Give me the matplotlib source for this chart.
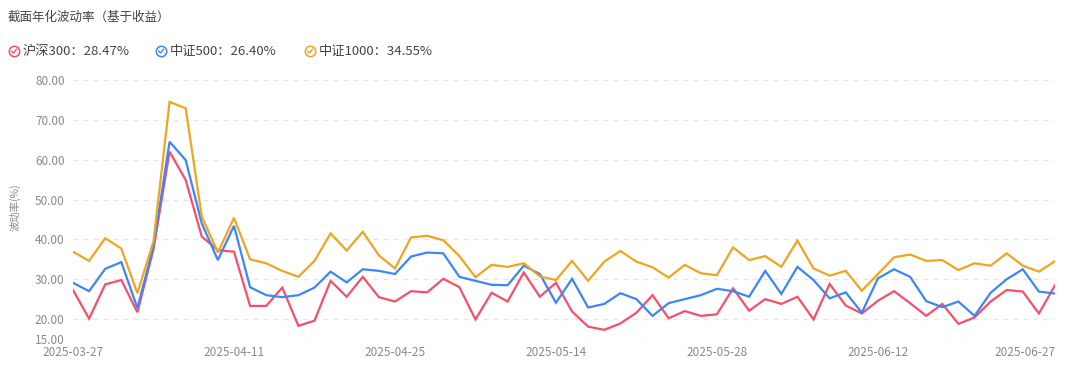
import matplotlib
matplotlib.use("Agg")
from matplotlib import pyplot as plt
from matplotlib.lines import Line2D

plt.rcParams["font.family"] = ["Noto Sans CJK SC", "DejaVu Sans"]

# trading days, 2025-03-27 .. 2025-06-27
dates = [
    "2025-03-27", "2025-03-28", "2025-03-31", "2025-04-01", "2025-04-02", "2025-04-03",
    "2025-04-07", "2025-04-08", "2025-04-09", "2025-04-10", "2025-04-11", "2025-04-14",
    "2025-04-15", "2025-04-16", "2025-04-17", "2025-04-18", "2025-04-21", "2025-04-22",
    "2025-04-23", "2025-04-24", "2025-04-25", "2025-04-28", "2025-04-29", "2025-04-30",
    "2025-05-06", "2025-05-07", "2025-05-08", "2025-05-09", "2025-05-12", "2025-05-13",
    "2025-05-14", "2025-05-15", "2025-05-16", "2025-05-19", "2025-05-20", "2025-05-21",
    "2025-05-22", "2025-05-23", "2025-05-26", "2025-05-27", "2025-05-28", "2025-05-29",
    "2025-05-30", "2025-06-03", "2025-06-04", "2025-06-05", "2025-06-06", "2025-06-09",
    "2025-06-10", "2025-06-11", "2025-06-12", "2025-06-13", "2025-06-16", "2025-06-17",
    "2025-06-18", "2025-06-19", "2025-06-20", "2025-06-23", "2025-06-24", "2025-06-25",
    "2025-06-26", "2025-06-27",
]

hs300 = [27.3, 20.1, 28.7, 29.8, 21.7, 37.5, 62.0, 54.9, 40.7, 37.3,
         36.9, 23.3, 23.3, 27.9, 18.3, 19.6, 29.6, 25.6, 30.6, 25.5,
         24.4, 27.0, 26.7, 30.1, 28.0, 19.9, 26.6, 24.4, 31.7, 25.6,
         29.1, 21.9, 18.1, 17.3, 18.9, 21.6, 26.0, 20.2, 22.0, 20.8,
         21.2, 27.7, 22.1, 25.0, 23.8, 25.6, 19.9, 28.8, 23.4, 21.4,
         24.6, 27.0, 24.0, 20.8, 23.8, 18.8, 20.4, 24.4, 27.3, 26.9,
         21.4, 28.47]
zz500 = [29.1, 27.0, 32.6, 34.3, 22.8, 38.2, 64.5, 59.9, 44.0, 34.8,
         43.4, 28.0, 26.0, 25.5, 26.0, 27.9, 31.9, 29.2, 32.5, 32.1,
         31.3, 35.7, 36.7, 36.5, 30.6, 29.6, 28.6, 28.5, 33.4, 31.3,
         24.1, 30.1, 22.9, 23.8, 26.5, 25.0, 20.8, 24.0, 25.0, 26.0,
         27.6, 27.0, 25.6, 32.1, 26.3, 33.1, 29.8, 25.2, 26.7, 21.6,
         30.2, 32.5, 30.6, 24.5, 23.0, 24.4, 20.8, 26.6, 30.0, 32.5,
         26.9, 26.40]
zz1000 = [36.9, 34.6, 40.3, 37.7, 26.5, 39.5, 74.5, 72.9, 45.7, 36.7,
          45.4, 35.0, 34.0, 32.1, 30.6, 34.6, 41.5, 37.2, 41.9, 36.0,
          32.7, 40.5, 40.9, 39.8, 35.8, 30.5, 33.6, 33.1, 34.0, 30.7,
          29.8, 34.6, 29.6, 34.4, 37.1, 34.4, 33.0, 30.4, 33.6, 31.5,
          31.0, 38.0, 34.8, 35.8, 33.1, 39.7, 32.7, 30.9, 32.1, 27.1,
          31.3, 35.5, 36.2, 34.6, 34.8, 32.3, 34.0, 33.4, 36.5, 33.4,
          31.9, 34.55]

names = ["沪深300", "中证500", "中证1000"]
colors = ["#f5506a", "#3d86f5", "#eea51f"]
series = [hs300, zz500, zz1000]

yticks = [15, 20, 30, 40, 50, 60, 70, 80]
label_idx = [0, 10, 20, 30, 40, 50, 61]

W, H = 1069, 370
fig = plt.figure(figsize=(W / 100, H / 100), dpi=100)
ax = fig.add_axes([73 / W, 1 - 339 / H, (1055 - 73) / W, 259 / H])

x = list(range(len(dates)))
for vals, c in zip(series, colors):
    ax.plot(x, vals, color=c, lw=1.6, solid_joinstyle="miter")

ax.set_xlim(0, len(dates) - 1)
ax.set_ylim(15, 80)
ax.set_yticks(yticks)
ax.set_yticklabels(["%.2f" % v for v in yticks], fontsize=8.5, color="#8a8a8a")
ax.yaxis.grid(True, color="#e6e6e6", linestyle=(0, (4, 4)), lw=0.9)
ax.set_axisbelow(True)
ax.tick_params(axis="both", length=0, pad=6)
ax.set_xticks([])
for s in ax.spines.values():
    s.set_visible(False)

# date labels: last one kept inside the canvas
for i in label_idx:
    ha = "right" if i == len(dates) - 1 else "center"
    ax.annotate(dates[i], xy=(i, 15), xycoords="data", xytext=(0, -5),
                textcoords="offset points", ha=ha, va="top",
                fontsize=8.5, color="#8a8a8a")

ax.set_ylabel("波动率(%)", fontsize=7.5, color="#8a8a8a", labelpad=4)
ax.yaxis.set_label_coords(-52 / (1055 - 73), (339 - 207) / 259)

# title and legend
fig.text(8 / W, 1 - 17 / H, "截面年化波动率（基于收益）", fontsize=9, color="#444444",
         va="center", ha="left")

overlay = fig.add_axes([0, 0, 1, 1], facecolor="none")
overlay.set_xlim(0, W)
overlay.set_ylim(H, 0)
overlay.axis("off")
leg_x = [14, 161, 310]
leg_y = 51
for lx, name, vals, c in zip(leg_x, names, series, colors):
    overlay.add_line(Line2D([lx], [leg_y], marker="o", markersize=7.5,
                            markerfacecolor="white", markeredgecolor=c,
                            markeredgewidth=1.1, linestyle="none"))
    overlay.add_line(Line2D([lx - 2.3, lx - 0.5, lx + 2.5], [leg_y + 0.2, leg_y + 2, leg_y - 1.8],
                            color=c, lw=1.0))
    overlay.text(lx + 9, leg_y, "%s：%.2f%%" % (name, vals[-1]), fontsize=9.5,
                 color="#444444", va="center", ha="left")

fig.savefig("out.png", dpi=100)
